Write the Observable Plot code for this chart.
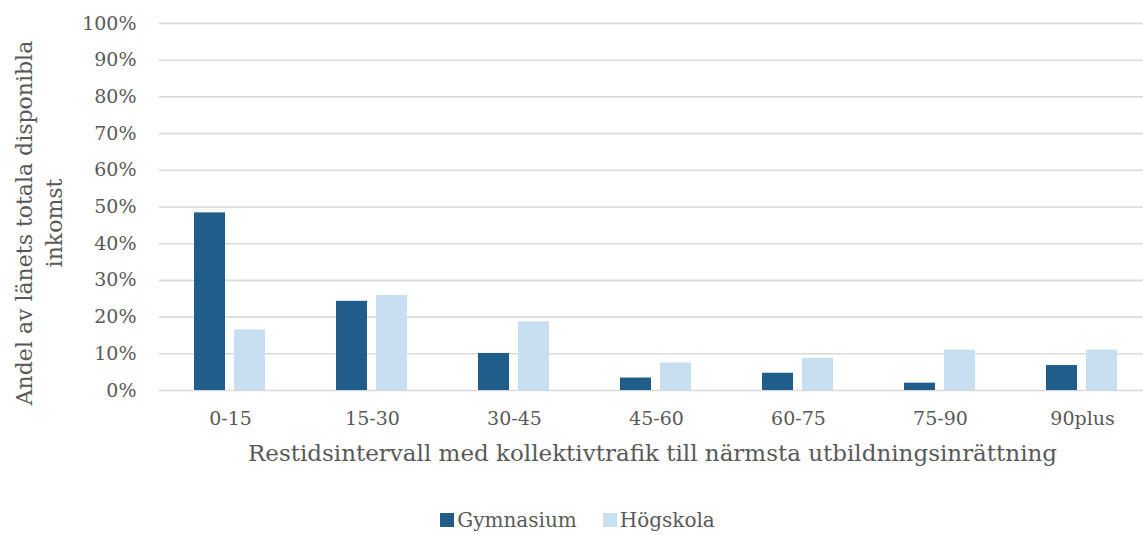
<!DOCTYPE html>
<html>
<head>
<meta charset="utf-8">
<script src="https://cdn.jsdelivr.net/npm/d3@7"></script>
<script src="https://cdn.jsdelivr.net/npm/@observablehq/plot@0.6"></script>
<style>
  body { margin: 0; background: #fff; font-family: "DejaVu Serif", serif; overflow: hidden; }
  #legend { display: flex; justify-content: center; gap: 26px; padding-top: 8px; padding-left: 12px; font-size: 20px; color: #595959; }
  #legend span.item { display: inline-flex; align-items: center; }
  #legend span.sw { display: inline-block; width: 14px; height: 14px; margin-right: 3px; }
</style>
</head>
<body>
<div id="chart"></div>
<div id="legend"></div>
<script>
const categories = ["0-15", "15-30", "30-45", "45-60", "60-75", "75-90", "90plus"];
const series = ["Gymnasium", "Högskola"];
const gymnasium = [48.4, 24.3, 10.1, 3.4, 4.7, 2.0, 6.8];
const hogskola = [16.5, 25.9, 18.7, 7.5, 8.8, 11.0, 11.0];
const yTicks = [0, 10, 20, 30, 40, 50, 60, 70, 80, 90, 100];
const colors = ["#215d8a", "#c7dff1"];
const xTitle = "Restidsintervall med kollektivtrafik till närmsta utbildningsinrättning";
const yTitle = "Andel av länets totala disponibla\ninkomst";

const data = categories.flatMap((c, i) => [
  {cat: c, series: series[0], value: gymnasium[i] / 100},
  {cat: c, series: series[1], value: hogskola[i] / 100}
]);
const ticks = yTicks.map(t => t / 100);

const chart = Plot.plot({
  width: 1143,
  height: 500,
  marginLeft: 157,
  marginRight: -12,
  marginTop: 23,
  marginBottom: 110,
  style: {fontFamily: "DejaVu Serif", color: "#595959", background: "#fff"},
  fx: {domain: categories, padding: 0, axis: null},
  x: {domain: series, paddingInner: 0.214, paddingOuter: 0.858, axis: null},
  y: {domain: [0, 1], axis: null},
  color: {domain: series, range: colors},
  marks: [
    Plot.gridY(ticks, {stroke: "#d9d9d9", strokeOpacity: 1, strokeWidth: 1.6}),
    Plot.axisY(ticks, {tickFormat: d3.format(".0%"), tickSize: 0, tickPadding: 23, fontSize: 19, label: null}),
    Plot.axisFx({anchor: "bottom", tickSize: 0, tickPadding: 21, fontSize: 19, label: null}),
    Plot.barY(data, {fx: "cat", x: "series", y: "value", fill: "series"}),
    Plot.text([yTitle], {fx: () => categories[0], text: d => d, frameAnchor: "left", textAnchor: "middle", rotate: -90, dx: -122, dy: 16, fontSize: 22, lineHeight: 1.36, fill: "#595959"}),
    Plot.text([xTitle], {fx: () => categories[3], text: d => d, frameAnchor: "bottom", textAnchor: "middle", dx: -4, dy: 70, fontSize: 23, fill: "#595959"})
  ]
});
document.getElementById("chart").appendChild(chart);

const legend = document.getElementById("legend");
series.forEach((s, i) => {
  const item = document.createElement("span");
  item.className = "item";
  const sw = document.createElement("span");
  sw.className = "sw";
  sw.style.background = colors[i];
  item.appendChild(sw);
  item.appendChild(document.createTextNode(s));
  legend.appendChild(item);
});
</script>
</body>
</html>
